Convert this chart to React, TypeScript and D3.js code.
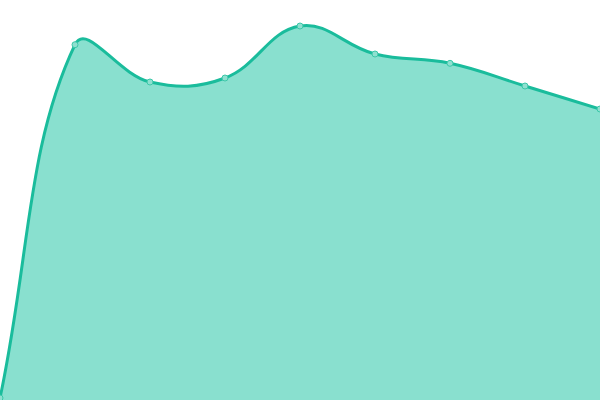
import React from "react";
import * as d3 from "d3";

const categories = ["0", "1", "2", "3", "4", "5", "6", "7", "8"];
const values = [2, 355.3, 318, 322, 374, 346, 336.7, 314, 291];

const W = 600;
const H = 400;
const TENSION = 0.4;

type P = { x: number; y: number; cp1x: number; cp1y: number; cp2x: number; cp2y: number };

function splinePoints(raw: { x: number; y: number }[]): P[] {
  const out: P[] = raw.map((p) => ({ ...p, cp1x: p.x, cp1y: p.y, cp2x: p.x, cp2y: p.y }));
  for (let i = 0; i < raw.length; i++) {
    const cur = raw[i];
    const prev = raw[i - 1] || cur;
    const next = raw[i + 1] || cur;
    const d01 = Math.hypot(cur.x - prev.x, cur.y - prev.y);
    const d12 = Math.hypot(next.x - cur.x, next.y - cur.y);
    let s01 = d01 / (d01 + d12);
    let s12 = d12 / (d01 + d12);
    s01 = isNaN(s01) ? 0 : s01;
    s12 = isNaN(s12) ? 0 : s12;
    const fa = TENSION * s01;
    const fb = TENSION * s12;
    const clampX = (v: number) => Math.max(0, Math.min(W, v));
    const clampY = (v: number) => Math.max(0, Math.min(H, v));
    out[i].cp1x = clampX(cur.x - fa * (next.x - prev.x));
    out[i].cp1y = clampY(cur.y - fa * (next.y - prev.y));
    out[i].cp2x = clampX(cur.x + fb * (next.x - prev.x));
    out[i].cp2y = clampY(cur.y + fb * (next.y - prev.y));
  }
  return out;
}

export default function App() {
  const x = d3.scalePoint<string>().domain(categories).range([0, W]);
  const y = d3.scaleLinear().domain([0, 400]).range([H, 0]);
  const raw = categories.map((c, i) => ({ x: x(c)!, y: y(values[i]) }));
  const pts = splinePoints(raw);

  const linePath = d3.path();
  pts.forEach((p, i) => {
    if (i === 0) linePath.moveTo(p.x, p.y);
    else {
      const q = pts[i - 1];
      linePath.bezierCurveTo(q.cp2x, q.cp2y, p.cp1x, p.cp1y, p.x, p.y);
    }
  });
  const lineD = linePath.toString();

  const areaPath = d3.path();
  pts.forEach((p, i) => {
    if (i === 0) areaPath.moveTo(p.x, p.y);
    else {
      const q = pts[i - 1];
      areaPath.bezierCurveTo(q.cp2x, q.cp2y, p.cp1x, p.cp1y, p.x, p.y);
    }
  });
  areaPath.lineTo(pts[pts.length - 1].x, y(0));
  areaPath.lineTo(pts[0].x, y(0));
  areaPath.closePath();

  return (
    <svg
      width={W}
      height={H}
      style={{ position: "fixed", left: 0, top: 0, background: "#fff" }}
    >
      <path d={areaPath.toString()} fill="#89e0cf" stroke="none" />
      <path d={lineD} fill="none" stroke="#1abc9c" strokeWidth={3} />
      {raw.map((d, i) => (
        <circle
          key={i}
          cx={d.x}
          cy={d.y}
          r={3}
          fill="#8fe0d0"
          stroke="#3cc8a9"
          strokeWidth={1}
        />
      ))}
    </svg>
  );
}
